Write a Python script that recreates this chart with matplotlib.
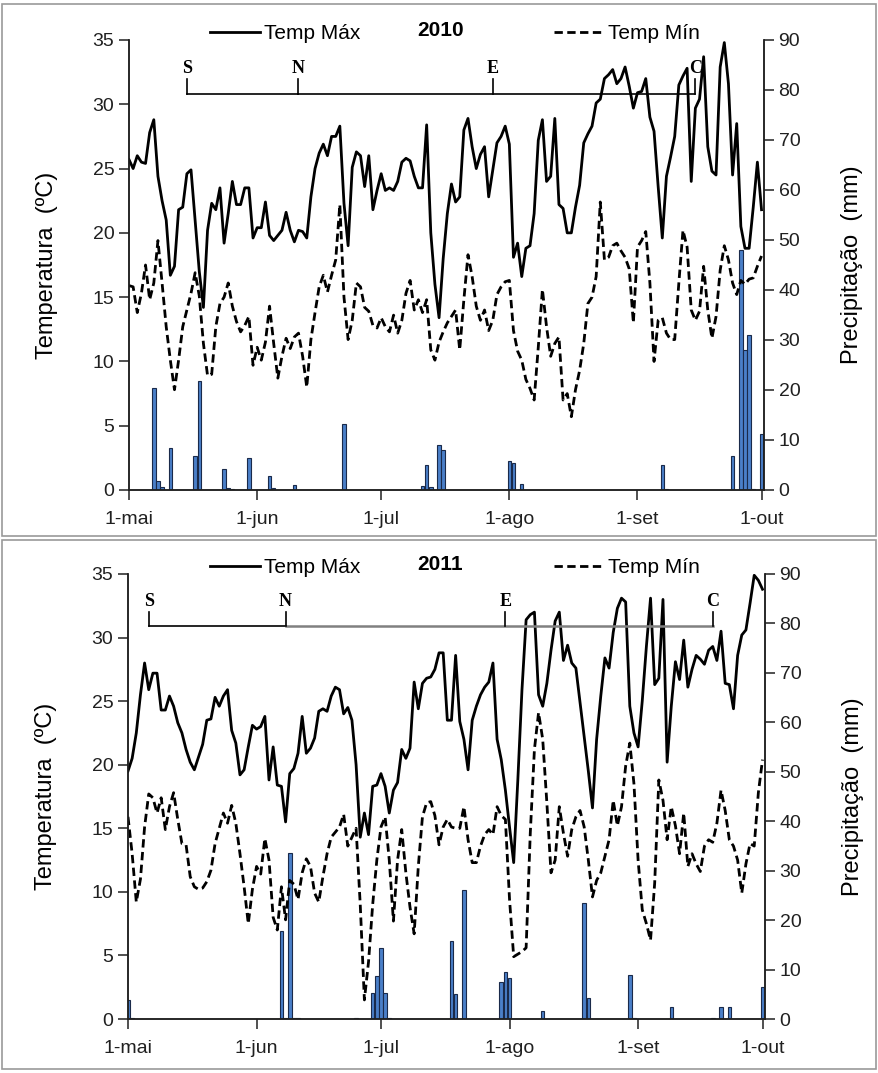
import numpy as np
import matplotlib
matplotlib.use('Agg')
import matplotlib.pyplot as plt
from matplotlib.lines import Line2D
from matplotlib.patches import Rectangle

plt.rcParams['font.family'] = ['Liberation Sans', 'DejaVu Sans']

# days counted from 1 May (0) to 1 Oct (153)
month_ticks = [0, 31, 61, 92, 123, 153]
month_labels = ['1-mai', '1-jun', '1-jul', '1-ago', '1-set', '1-out']

tmax_2010 = [25.7, 25.0, 26.0, 25.5, 25.4, 27.8, 28.8, 24.4, 22.5, 21.0,
             16.7, 17.4, 21.8, 22.0, 24.6, 24.9, 21.0, 17.0, 14.2, 20.2,
             22.3, 21.8, 23.5, 19.2, 21.5, 24.0, 22.2, 22.2, 23.5, 23.5,
             19.6, 20.4, 20.4, 22.4, 19.8, 19.4, 19.8, 20.2, 21.6, 20.2,
             19.3, 20.2, 20.1, 19.6, 22.8, 25.0, 26.2, 26.9, 26.0, 27.5,
             27.5, 28.3, 22.3, 19.0, 25.1, 26.3, 26.0, 23.6, 26.0, 21.8,
             23.3, 24.6, 23.3, 23.5, 23.3, 24.0, 25.5, 25.8, 25.6, 24.4,
             23.5, 23.5, 28.4, 20.0, 16.0, 13.4, 18.0, 21.5, 23.8, 22.4,
             22.8, 28.0, 28.9, 26.7, 25.0, 26.1, 26.7, 22.8, 24.9, 27.0,
             27.5, 28.3, 26.9, 18.1, 19.2, 16.6, 18.8, 19.0, 21.5, 27.2,
             28.8, 24.0, 24.4, 28.9, 22.2, 21.9, 20.0, 20.0, 22.0, 23.7,
             27.0, 27.7, 28.3, 30.1, 30.4, 32.0, 32.3, 32.7, 31.6, 32.0,
             32.9, 31.4, 29.7, 30.9, 31.0, 32.0, 29.0, 27.9, 23.6, 19.6,
             24.4, 25.9, 27.5, 31.5, 32.2, 32.8, 24.0, 29.7, 30.4, 33.7,
             26.7, 24.8, 24.5, 32.9, 34.8, 31.6, 24.5, 28.5, 20.5, 18.8,
             18.8, 22.0, 25.5, 21.8]

tmin_2010 = [15.9, 15.8, 13.8, 15.3, 17.5, 14.8, 16.1, 19.4, 16.1, 12.7,
             10.1, 7.8, 10.1, 12.7, 14.0, 15.3, 16.9, 15.1, 11.4, 8.9,
             9.0, 12.7, 14.5, 15.0, 16.1, 14.3, 13.1, 12.3, 12.8, 13.5,
             9.7, 11.1, 10.1, 11.5, 14.3, 11.4, 8.7, 10.4, 11.8, 11.0,
             11.9, 12.2, 10.4, 8.0, 11.7, 13.8, 15.8, 16.7, 15.4, 16.7,
             17.9, 22.2, 15.0, 11.7, 13.2, 16.1, 15.8, 14.2, 13.9, 12.8,
             12.6, 13.4, 12.7, 12.3, 13.6, 12.2, 13.2, 15.3, 16.3, 14.0,
             14.8, 13.8, 14.8, 10.9, 10.1, 11.5, 12.3, 13.0, 13.5, 14.0,
             10.9, 14.8, 18.3, 16.6, 14.3, 13.2, 14.0, 12.4, 13.2, 15.2,
             15.8, 16.2, 16.3, 12.4, 10.8, 10.1, 8.6, 7.9, 7.0, 11.1,
             15.6, 12.7, 10.4, 11.4, 11.9, 7.0, 7.5, 5.7, 7.8, 9.3,
             11.4, 14.5, 15.0, 16.6, 22.4, 17.9, 18.1, 19.0, 19.2, 18.6,
             18.1, 17.2, 13.0, 18.9, 19.4, 20.1, 16.1, 10.0, 13.2, 13.4,
             12.2, 11.7, 11.7, 16.1, 20.2, 18.9, 14.0, 13.2, 13.9, 17.4,
             14.0, 11.8, 13.5, 17.1, 19.0, 17.9, 16.1, 15.2, 16.3, 16.0,
             16.4, 16.5, 17.4, 18.2]

rain_day_2010 = [6, 7, 8, 10, 16, 17, 23, 24, 25, 29, 34, 35, 40, 52, 71, 72,
                 73, 75, 76, 92, 93, 95, 129, 130, 146, 148, 149, 150, 151, 153]
rain_mm_2010 = [20.5, 1.9, 0.7, 8.5, 6.8, 21.9, 4.3, 0.4, 0.3, 6.5, 2.8, 0.4,
                1.0, 13.3, 0.8, 5.0, 0.6, 9.0, 8.1, 5.9, 5.4, 1.3, 5.0, 0.2,
                6.8, 48.0, 28.0, 31.1, 0.3, 11.3]

tmax_2011 = [19.5, 20.5, 22.5, 25.5, 28.0, 25.9, 27.2, 27.2, 24.3, 24.3,
             25.4, 24.6, 23.3, 22.5, 21.2, 20.2, 19.6, 20.6, 21.6, 23.5,
             23.6, 25.3, 24.6, 25.4, 25.9, 22.7, 21.7, 19.2, 19.6, 21.4,
             23.1, 22.8, 23.0, 23.8, 18.8, 21.4, 18.4, 18.3, 15.5, 19.3,
             19.7, 20.9, 23.8, 20.9, 21.3, 22.1, 24.2, 24.4, 24.2, 25.4,
             26.1, 25.9, 24.0, 24.5, 23.5, 20.0, 14.3, 16.2, 14.5, 18.3,
             18.4, 19.3, 18.3, 16.2, 18.0, 18.6, 21.2, 20.5, 21.3, 26.5,
             24.4, 26.4, 26.8, 26.9, 27.5, 28.8, 28.8, 23.5, 23.5, 28.6,
             23.4, 22.0, 19.6, 23.5, 24.6, 25.5, 26.1, 26.5, 28.0, 22.0,
             20.4, 18.0, 15.1, 12.3, 18.8, 25.9, 31.4, 31.8, 32.0, 25.5,
             24.6, 26.4, 29.0, 31.3, 32.0, 28.2, 29.4, 28.0, 27.6, 24.9,
             22.2, 19.5, 16.6, 22.0, 25.4, 28.4, 27.6, 30.4, 32.3, 33.1,
             32.8, 24.6, 22.5, 21.4, 25.0, 29.3, 33.1, 26.3, 26.8, 33.0,
             20.2, 24.6, 28.1, 26.7, 29.8, 26.1, 27.5, 28.6, 28.3, 27.9,
             29.0, 29.3, 28.2, 30.5, 26.4, 26.3, 24.4, 28.6, 30.2, 30.6,
             32.7, 34.9, 34.5, 33.8]

tmin_2011 = [15.9, 13.0, 9.2, 11.0, 15.1, 17.7, 17.4, 16.2, 17.4, 14.9,
             16.7, 17.8, 15.7, 13.8, 13.7, 11.2, 10.4, 10.2, 10.3, 10.8,
             11.7, 13.8, 15.0, 16.2, 15.4, 16.8, 15.4, 13.0, 10.4, 7.5,
             10.2, 12.0, 11.4, 14.2, 12.5, 8.0, 7.0, 10.4, 7.8, 10.9,
             10.6, 9.4, 11.5, 12.6, 12.0, 9.9, 9.2, 11.2, 13.0, 14.3,
             14.7, 15.1, 16.1, 13.6, 14.3, 15.0, 9.0, 1.5, 4.5, 9.0,
             12.5, 15.1, 15.9, 12.5, 7.7, 12.5, 14.9, 11.5, 8.8, 6.7,
             12.0, 15.9, 17.0, 17.1, 16.0, 13.7, 15.1, 15.7, 15.1, 15.0,
             15.0, 16.7, 14.1, 12.3, 12.3, 13.6, 14.5, 14.9, 14.5, 16.7,
             16.0, 15.7, 9.4, 4.9, 5.1, 5.3, 5.6, 14.6, 21.2, 24.1,
             22.0, 17.0, 11.5, 12.5, 16.7, 14.6, 12.8, 14.9, 15.9, 16.4,
             15.1, 12.5, 9.6, 10.9, 11.5, 12.8, 14.1, 17.2, 15.2, 16.7,
             19.9, 21.7, 18.5, 12.5, 8.6, 7.5, 6.2, 10.7, 18.8, 17.2,
             14.1, 16.7, 15.2, 13.0, 16.2, 12.0, 13.0, 12.2, 11.6, 13.6,
             14.1, 13.9, 15.4, 18.0, 16.4, 14.1, 13.6, 12.5, 9.9, 12.2,
             13.8, 13.6, 17.8, 20.4]

rain_day_2011 = [0, 1, 37, 38, 39, 40, 41, 55, 59, 60, 61, 62, 63, 78, 79, 81,
                 90, 91, 92, 100, 110, 111, 121, 122, 131, 141, 143, 145, 153]
rain_mm_2011 = [3.8, 0.2, 17.7, 0.2, 33.6, 0.3, 0.2, 0.3, 5.3, 8.6, 14.4, 5.3,
                0.2, 15.8, 5.1, 26.1, 7.5, 9.6, 8.2, 1.7, 23.5, 4.2, 9.0, 0.2,
                2.4, 0.2, 2.4, 2.4, 6.4]

stage_names = ['S', 'N', 'E', 'C']
stage_day_2010 = [14, 41, 88, 137]
stage_day_2011 = [5, 38, 91, 141]

W, H = 879, 1073
fig = plt.figure(figsize=(W / 100, H / 100), dpi=100)

# chart frames
for y0, y1 in [(4, 536), (540, 1069)]:
    fig.patches.append(Rectangle((2 / W, 1 - y1 / H), (W - 5) / W, (y1 - y0) / H,
                                 transform=fig.transFigure, fill=False,
                                 edgecolor='#9a9a9a', linewidth=1.2))


def panel(rect, year, tmax, tmin, rday, rmm, sday, stage_y, gray_tail):
    ax = fig.add_axes(rect)
    ax2 = ax.twinx()
    ax.set_zorder(ax2.get_zorder() + 1)
    ax.patch.set_visible(False)

    ax2.bar(rday, rmm, width=0.85, color='#4a7fc8', edgecolor='#1a2a4a',
            linewidth=0.8)
    ax2.set_ylim(0, 90)
    ax2.set_yticks(range(0, 91, 10))

    days = np.arange(len(tmax))
    ax.plot(days, tmax, color='black', linewidth=2.0, label='Temp Máx')
    ax.plot(days, tmin, color='black', linewidth=2.0, linestyle=(0, (3, 1.6)),
            label='Temp Mín')
    ax.set_ylim(0, 35)
    ax.set_yticks(range(0, 36, 5))
    ax.set_xlim(0, 153.6)
    ax.set_xticks(month_ticks)
    ax.set_xticklabels(month_labels)

    # phenological stages
    c_main = 'black'
    ax.plot([sday[0], sday[1]], [stage_y, stage_y], color=c_main, linewidth=1.2)
    ax.plot([sday[1], sday[3]], [stage_y, stage_y],
            color='#808080' if gray_tail else c_main,
            linewidth=1.8 if gray_tail else 1.2)
    for d, name in zip(sday, stage_names):
        ax.plot([d, d], [stage_y, stage_y + 1.15], color=c_main, linewidth=1.2)
        ax.text(d, stage_y + 1.3, name, ha='center', va='bottom',
                family='Liberation Serif', fontweight='bold', fontsize=13)

    for a in (ax, ax2):
        a.spines['top'].set_visible(False)
        for s in a.spines.values():
            s.set_linewidth(1.1)
            s.set_color('#202020')
        a.tick_params(direction='out', length=7, width=1.1, labelsize=14,
                      colors='#202020')
    ax.tick_params(axis='x', pad=8)

    ax.set_ylabel('Temperatura  (ºC)', fontsize=17, labelpad=25)
    ax2.set_ylabel('Precipitação  (mm)', fontsize=17, labelpad=29)

    handles = [Line2D([], [], color='black', linewidth=2.0),
               Line2D([], [], color='black', linewidth=2.0, linestyle=(0, (3, 1.6)))]
    ax.legend(handles, ['Temp Máx', 'Temp Mín'], loc='lower center',
              bbox_to_anchor=(0.513, 0.975), ncol=2, frameon=False,
              fontsize=15, handlelength=2.4, handletextpad=0.2,
              columnspacing=9.3, borderaxespad=0)
    ax.text(0.49, 1.0, str(year), transform=ax.transAxes, ha='center',
            va='bottom', fontsize=15, fontweight='bold')
    return ax


panel([129 / W, 1 - 490 / H, 635 / W, 450 / H], 2010, tmax_2010, tmin_2010,
      rain_day_2010, rain_mm_2010, stage_day_2010, 30.8, False)
panel([128 / W, 1 - 1019 / H, 637 / W, 445 / H], 2011, tmax_2011, tmin_2011,
      rain_day_2011, rain_mm_2011, stage_day_2011, 30.9, True)

fig.savefig('out.png', dpi=100)
